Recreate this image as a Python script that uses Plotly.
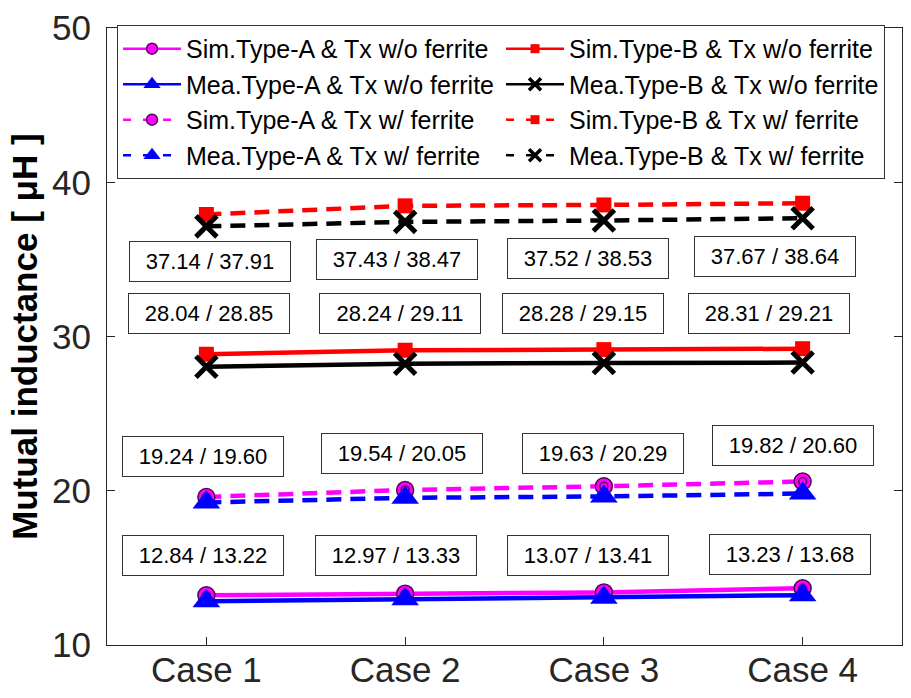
import plotly.graph_objects as go

cases = ["Case 1", "Case 2", "Case 3", "Case 4"]
y_ticks = [10, 20, 30, 40, 50]

# Type-A receiver
sim_a_wo = [13.22, 13.33, 13.41, 13.68]
mea_a_wo = [12.84, 12.97, 13.07, 13.23]
sim_a_w = [19.60, 20.05, 20.29, 20.60]
mea_a_w = [19.24, 19.54, 19.63, 19.82]
# Type-B receiver
sim_b_wo = [28.85, 29.11, 29.15, 29.21]
mea_b_wo = [28.04, 28.24, 28.28, 28.31]
sim_b_w = [37.91, 38.47, 38.53, 38.64]
mea_b_w = [37.14, 37.43, 37.52, 37.67]

names = {
    "sa1": "Sim.Type-A & Tx w/o ferrite",
    "ma1": "Mea.Type-A & Tx w/o ferrite",
    "sa2": "Sim.Type-A & Tx w/ ferrite",
    "ma2": "Mea.Type-A & Tx w/ ferrite",
    "sb1": "Sim.Type-B & Tx w/o ferrite",
    "mb1": "Mea.Type-B & Tx w/o ferrite",
    "sb2": "Sim.Type-B & Tx w/ ferrite",
    "mb2": "Mea.Type-B & Tx w/ ferrite",
}

# label box placement (layout only)
label_x_offsets = {
    "a1": [-0.015, -0.045, -0.08, -0.065],
    "a2": [-0.015, -0.015, -0.005, -0.05],
    "b1": [0.015, -0.025, -0.105, -0.17],
    "b2": [0.02, -0.04, -0.08, -0.14],
}
label_y = {
    "a1": [15.82, 15.82, 15.82, 15.89],
    "a2": [22.25, 22.44, 22.44, 22.91],
    "b1": [31.49, 31.49, 31.49, 31.49],
    "b2": [34.84, 35.0, 35.06, 35.19],
}

FONT = "Liberation Sans, Arial, sans-serif"
DASH = "15px,9px"
LEG_DASH = "8px,12px"
LW = 4.5

fig = go.Figure()
xs = [1, 2, 3, 4]


def add(key, y, color, dash, symbol, size, rank, mline_color=None, mline_w=0,
        leg_size=10, leg_mline_w=None):
    fig.add_trace(go.Scatter(
        x=xs, y=y, name=names[key], mode="lines+markers", showlegend=False,
        line=dict(color=color, width=LW, dash=dash),
        marker=dict(symbol=symbol, size=size, color=color,
                    line=dict(color=mline_color or color, width=mline_w)),
    ))
    # legend swatch (thin line, small marker) like the reference legend
    fig.add_trace(go.Scatter(
        x=[None], y=[None], name=names[key], mode="lines+markers",
        line=dict(color=color, width=2.5,
                  dash=("solid" if dash == "solid" else LEG_DASH)),
        marker=dict(symbol=symbol, size=leg_size, color=color,
                    line=dict(color=mline_color or color,
                              width=leg_mline_w if leg_mline_w is not None else mline_w)),
        legendrank=rank, hoverinfo="skip",
    ))


def inner(y):
    fig.add_trace(go.Scatter(
        x=xs, y=y, mode="markers", showlegend=False, hoverinfo="skip",
        marker=dict(symbol="circle-open", size=8, color="#5a0a5a",
                    line=dict(width=1.5)),
    ))


add("sa1", sim_a_wo, "#ff00ff", "solid", "circle", 17, 1, "#4d0a4d", 1.5, 11)
inner(sim_a_wo)
add("ma1", mea_a_wo, "#0000ff", "solid", "triangle-up", 24, 3, leg_size=15)
add("sa2", sim_a_w, "#ff00ff", DASH, "circle", 17, 5, "#4d0a4d", 1.5, 11)
inner(sim_a_w)
add("ma2", mea_a_w, "#0000ff", DASH, "triangle-up", 24, 7, leg_size=15)
add("sb1", sim_b_wo, "#ff0000", "solid", "square", 15, 2, leg_size=9)
add("mb1", mea_b_wo, "#000000", "solid", "x-thin", 21, 4, "#000000", 5,
    leg_size=12, leg_mline_w=3.5)
add("sb2", sim_b_w, "#ff0000", DASH, "square", 15, 6, leg_size=9)
add("mb2", mea_b_w, "#000000", DASH, "x-thin", 21, 8, "#000000", 5,
    leg_size=12, leg_mline_w=3.5)

groups = {
    "a1": (mea_a_wo, sim_a_wo),
    "a2": (mea_a_w, sim_a_w),
    "b1": (mea_b_wo, sim_b_wo),
    "b2": (mea_b_w, sim_b_w),
}
for g, (mea, sim) in groups.items():
    for i in range(4):
        fig.add_annotation(
            x=xs[i] + label_x_offsets[g][i], y=label_y[g][i],
            xref="x", yref="y", showarrow=False,
            text=f"{mea[i]:.2f} / {sim[i]:.2f}",
            font=dict(family=FONT, size=22, color="#000000"),
            bgcolor="#ffffff", bordercolor="#333333", borderwidth=1,
            width=158, height=37, borderpad=1,
        )

fig.add_annotation(
    xref="paper", yref="paper", x=-0.104, y=0.5, showarrow=False,
    text="<b>Mutual inductance [ μH ]</b>", textangle=-90,
    font=dict(family=FONT, size=35, color="#000000"),
    xanchor="center", yanchor="middle",
)

axis_common = dict(
    showgrid=False, zeroline=False, showline=True, linecolor="#262626",
    linewidth=1, mirror="ticks", ticks="inside", ticklen=8,
    tickcolor="#262626", tickfont=dict(family=FONT, size=35, color="#262626"),
    ticklabeloverflow="allow",
)

fig.update_layout(
    width=911, height=698,
    margin=dict(l=107, r=8, t=13, b=53),
    paper_bgcolor="#ffffff", plot_bgcolor="#ffffff",
    xaxis=dict(range=[0.5, 4.5], tickvals=xs, ticktext=cases,
               ticklabelstandoff=-6, **axis_common),
    yaxis=dict(range=[10, 50], tickvals=y_ticks, ticklabelstandoff=8,
               **axis_common),
    legend=dict(
        orientation="h", x=0.0126, y=1.005, xanchor="left", yanchor="top",
        bgcolor="#ffffff", bordercolor="#333333", borderwidth=1,
        font=dict(family=FONT, size=25, color="#000000"),
        entrywidth=310, entrywidthmode="pixels", itemwidth=58,
        traceorder="normal",
    ),
    showlegend=True,
)

fig.write_html("out.html", config={"displayModeBar": False},
               post_script="document.body.style.margin='0';")
